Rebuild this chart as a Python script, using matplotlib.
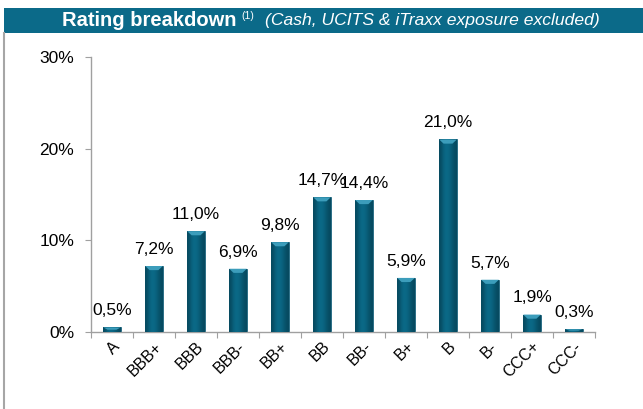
import matplotlib
matplotlib.use("Agg")
import matplotlib.pyplot as plt
import numpy as np
from matplotlib.patches import Rectangle, Polygon
from matplotlib.lines import Line2D

categories = ["A", "BBB+", "BBB", "BBB-", "BB+", "BB", "BB-", "B+", "B", "B-", "CCC+", "CCC-"]
values = [0.5, 7.2, 11.0, 6.9, 9.8, 14.7, 14.4, 5.9, 21.0, 5.7, 1.9, 0.3]
value_labels = ["0,5%", "7,2%", "11,0%", "6,9%", "9,8%", "14,7%", "14,4%", "5,9%", "21,0%", "5,7%", "1,9%", "0,3%"]
yticks = [0, 10, 20, 30]
ytick_labels = ["0%", "10%", "20%", "30%"]

plt.rcParams['font.family'] = ['Liberation Sans', 'DejaVu Sans']

fig = plt.figure(figsize=(6.43, 4.09), dpi=100)
W, H = 643, 409

# Title bar
fig.patches.append(Rectangle((4 / W, 1 - 33 / H), 1 - 4 / W, 25 / H,
                             transform=fig.transFigure, facecolor="#0B6A89",
                             edgecolor="none", zorder=0))
fig.lines.append(Line2D([4 / W, 4 / W], [0, 1 - 33 / H], transform=fig.transFigure,
                        color="#A6A6A6", lw=1.5))
ty = 1 - 21 / H
fig.text(62 / W, ty, "Rating breakdown", color="white", fontsize=14.5,
         fontweight="bold", va="center", ha="left")
fig.text(241 / W, ty + 0.012, "(1)", color="white", fontsize=7.5, va="center", ha="left")
fig.text(265 / W, ty, "(Cash, UCITS & iTraxx exposure excluded)", color="white",
         fontsize=12.6, style="italic", va="center", ha="left")

ax = fig.add_axes([91 / W, 1 - 332 / H, (595 - 91) / W, (332 - 57) / H])
x = list(range(len(categories)))
bw = 0.42
bars = ax.bar(x, values, width=bw, color="#0A6783", edgecolor="#0A5570", linewidth=0.5, zorder=2)

# horizontal shading to mimic the 3D look of the bars
grad = np.array([[0.0, 0.55, 0.8, 0.65, 0.3, 0.0]])
cmap = matplotlib.colors.LinearSegmentedColormap.from_list("g", ["#064A60", "#0C7494"])
for b in bars:
    x0, w, h = b.get_x(), b.get_width(), b.get_height()
    im = ax.imshow(grad, cmap=cmap, vmin=0, vmax=1, aspect="auto",
                   extent=(x0, x0 + w, 0, h), zorder=3, interpolation="bicubic")
    im.set_clip_path(b)
    cap = min(0.45, h * 0.5)
    ax.add_patch(Polygon([(x0, h), (x0 + w, h), (x0 + w * 0.75, h - cap), (x0 + w * 0.25, h - cap)],
                         closed=True, facecolor="#3C9DBB", edgecolor="none", zorder=4))

for xi, v, lab in zip(x, values, value_labels):
    ax.text(xi, v + 1.0, lab, ha="center", va="bottom", fontsize=12.5, color="black")

ax.set_xlim(-0.5, len(categories) - 0.5)
ax.set_ylim(0, 30)
ax.set_yticks(yticks)
ax.set_yticklabels(ytick_labels, fontsize=12.5)
ax.set_xticks([i - 0.5 for i in range(len(categories) + 1)], minor=False)
ax.set_xticklabels([])
ax.set_xticks(x, minor=True)
ax.set_xticklabels(categories, minor=True, rotation=45, ha="right", rotation_mode="anchor",
                   fontsize=11.5)
ax.tick_params(axis="x", which="minor", length=0, pad=5)
ax.tick_params(axis="x", which="major", length=4, color="#A0A0A0", direction="out")
ax.tick_params(axis="y", length=4, color="#A0A0A0", direction="out", pad=8)

for s in ["top", "right"]:
    ax.spines[s].set_visible(False)
for s in ["left", "bottom"]:
    ax.spines[s].set_color("#A0A0A0")
    ax.spines[s].set_linewidth(1)

fig.savefig("out.png", dpi=100)
